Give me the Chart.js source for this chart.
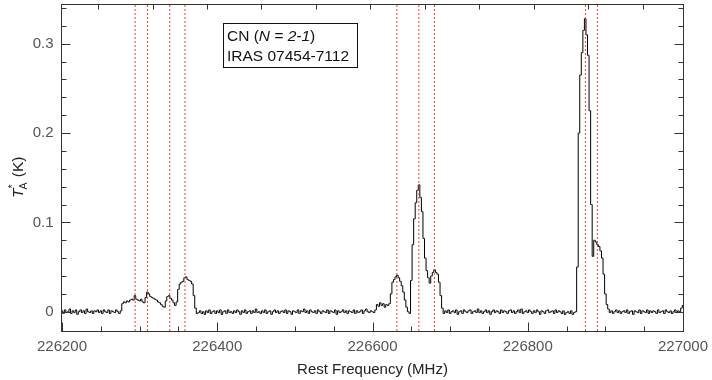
<!DOCTYPE html>
<html>
<head>
<meta charset="utf-8">
<script src="https://cdn.jsdelivr.net/npm/chart.js@4.4.0/dist/chart.umd.min.js"></script>
<style>
  html, body { margin: 0; padding: 0; background: #fff; }
  #wrap { width: 712px; height: 380px; }
</style>
</head>
<body>
<div id="wrap"><canvas id="spectrumChart" width="712" height="380"></canvas></div>
<script>
// Spectrum channels: first channel (MHz) and channel width (MHz)
const freqStart = 226200;
const chanWidth = 2;

// Antenna temperature T_A* (K), one value per channel
const taValues = [
  // 226200
   0.001,-0.002, 0.002,-0.001, 0.000, 0.003,-0.002, 0.001,-0.001, 0.002,
  -0.003, 0.000, 0.002,-0.001, 0.001,-0.002, 0.003, 0.000,-0.001, 0.001,
  // 226240
  -0.002, 0.001, 0.000, 0.002,-0.001, 0.001,-0.002, 0.002, 0.000,-0.001,
   0.002,-0.002, 0.001, 0.000,-0.001, 0.002, 0.000,-0.002, 0.001, 0.009,
  // 226280
   0.011, 0.010, 0.012, 0.011, 0.013, 0.014, 0.013, 0.018, 0.014, 0.013,
   0.012, 0.014, 0.011, 0.010, 0.016, 0.022, 0.020, 0.017, 0.016, 0.015,
  // 226320
   0.014, 0.013, 0.011, 0.010, 0.008, 0.006, 0.005, 0.012, 0.017, 0.018,
   0.015, 0.013, 0.010, 0.007, 0.011, 0.025, 0.031, 0.033, 0.034, 0.038,
  // 226360
   0.039, 0.036, 0.035, 0.034, 0.031, 0.018, 0.004,-0.002,-0.001, 0.001,
  -0.002, 0.000,-0.003, 0.001,-0.001, 0.002,-0.002, 0.000, 0.001,-0.002,
  // 226400
   0.001,-0.001, 0.002,-0.003, 0.000, 0.001,-0.002, 0.002,-0.001, 0.000,
  -0.002, 0.001,-0.001, 0.002, 0.000,-0.003, 0.001,-0.001, 0.002,-0.002,
  // 226440
   0.000, 0.001,-0.002, 0.001,-0.001, 0.003,-0.001, 0.000,-0.002, 0.001,
  -0.001, 0.002,-0.002, 0.000, 0.001,-0.003, 0.000, 0.002,-0.001, 0.001,
  // 226480
  -0.002, 0.000, 0.001,-0.001, 0.002,-0.002, 0.001, 0.000,-0.003, 0.001,
   0.000,-0.001, 0.002,-0.002, 0.001, 0.000, 0.003,-0.001, 0.001,-0.002,
  // 226520
   0.002, 0.000,-0.001, 0.001,-0.002, 0.002, 0.000,-0.002, 0.001, 0.000,
  -0.001, 0.002,-0.002, 0.001, 0.000,-0.001, 0.002,-0.003, 0.001,-0.001,
  // 226560
   0.000, 0.002,-0.001, 0.001,-0.002, 0.001, 0.000,-0.001, 0.002,-0.002,
   0.001,-0.001, 0.000, 0.002,-0.002, 0.001, 0.003, 0.000,-0.001, 0.001,
  // 226600
   0.000,-0.001, 0.002, 0.008, 0.006, 0.010, 0.007, 0.009, 0.005, 0.008,
   0.007, 0.009, 0.020, 0.033, 0.036, 0.039, 0.041, 0.038, 0.034, 0.029,
  // 226640
   0.022, 0.013, 0.005, 0.000,-0.002, 0.035, 0.075, 0.104, 0.122, 0.136,
   0.142, 0.128, 0.112, 0.082, 0.060, 0.046, 0.038, 0.032, 0.040, 0.044,
  // 226680
   0.047, 0.044, 0.042, 0.033, 0.018, 0.004,-0.002, 0.001,-0.001, 0.002,
  -0.002, 0.000, 0.001,-0.001, 0.002,-0.003, 0.000, 0.001,-0.002, 0.002,
  // 226720
   0.000,-0.001, 0.001, 0.002,-0.002, 0.000, 0.001,-0.001, 0.003,-0.001,
   0.001,-0.002, 0.000, 0.002,-0.001, 0.001,-0.003, 0.000, 0.002,-0.001,
  // 226760
   0.001, 0.000,-0.002, 0.002,-0.001, 0.001, 0.000,-0.002, 0.001, 0.002,
  -0.001, 0.001,-0.002, 0.000, 0.002,-0.001, 0.003,-0.002, 0.000, 0.001,
  // 226800
  -0.001, 0.002, 0.000,-0.002, 0.001,-0.001, 0.002, 0.000,-0.003, 0.001,
   0.000,-0.002, 0.001, 0.002,-0.001, 0.000, 0.001,-0.002, 0.002,-0.001,
  // 226840
   0.001, 0.000,-0.002, 0.001,-0.003,-0.001, 0.000,-0.002, 0.001,-0.003,
  -0.001, 0.000, 0.050, 0.200, 0.265, 0.290, 0.315, 0.328, 0.310, 0.287,
  // 226880
   0.225, 0.120, 0.062, 0.080, 0.078, 0.075, 0.073, 0.068, 0.060, 0.042,
   0.020, 0.008, 0.003,-0.001, 0.001,-0.002, 0.000, 0.002,-0.001, 0.001,
  // 226920
  -0.002, 0.000, 0.001,-0.001, 0.002,-0.002, 0.000, 0.001,-0.003, 0.001,
   0.000,-0.001, 0.002,-0.002, 0.001, 0.000,-0.001, 0.002,-0.002, 0.001,
  // 226960
  -0.001, 0.001, 0.000,-0.002, 0.002,-0.001, 0.000, 0.001,-0.002, 0.002,
   0.000,-0.001, 0.001,-0.002, 0.000, 0.002,-0.001, 0.001, 0.000, 0.004,
  // 227000
   0.007
];

// Hyperfine component rest frequencies (MHz), red dotted markers
const lineFreqs = [226294.2, 226310.2, 226338.8, 226358.4, 226631.4, 226659.7, 226679.8, 226874.3, 226889.7];

// Axis ranges and ticks
const xRange = [226200, 227000];
const yRange = [-0.0216, 0.3434];
const xTickLabels = [226200, 226400, 226600, 226800, 227000];
const yTickLabels = [0, 0.1, 0.2, 0.3];
const topTickFreqs = [226246.9, 226317.0, 226386.3, 226456.5, 226526.8, 226597.1, 226667.3, 226737.6, 226807.9, 226878.1, 226948.4];

const FONT = '"Liberation Sans", Arial, Helvetica, sans-serif';

document.addEventListener('DOMContentLoaded', function () {
    const canvas = document.getElementById('spectrumChart');
    const spectrum = taValues.map((v, i) => ({ x: freqStart + i * chanWidth, y: v }));

    // one dotted vertical dataset per line frequency
    const markerSets = lineFreqs.map(f => ({
        data: [{ x: f, y: yRange[0] }, { x: f, y: yRange[1] }],
        borderColor: 'rgba(238, 40, 40, 0.9)',
        borderWidth: 1,
        borderDash: [2, 2],
        pointRadius: 0,
        order: 0
    }));

    // frame, inward ticks, tick labels, axis titles and the label box
    const framePlugin = {
        id: 'frame',
        afterDraw(chart) {
            const { ctx, chartArea: a, scales: { x, y } } = chart;
            const L = Math.round(a.left) - 0.5, R = Math.round(a.right) + 0.5;
            const T = Math.round(a.top) - 0.5, B = Math.round(a.bottom) + 0.5;
            ctx.save();
            ctx.strokeStyle = '#333';
            ctx.lineWidth = 1;
            ctx.strokeRect(L, T, R - L, B - T);

            ctx.beginPath();
            // bottom: major every 200, minor every 50
            for (let f = xRange[0]; f <= xRange[1]; f += 50) {
                const px = Math.round(x.getPixelForValue(f)) + 0.5;
                const len = xTickLabels.includes(f) ? 9 : 5;
                ctx.moveTo(px, B); ctx.lineTo(px, B - len);
            }
            // top axis ticks
            topTickFreqs.forEach(f => {
                const px = Math.round(x.getPixelForValue(f)) + 0.5;
                ctx.moveTo(px, T); ctx.lineTo(px, T + 5);
            });
            // left and right: major every 0.1, minor every 0.02
            for (let k = 0; k <= 17; k++) {
                const v = k * 0.02;
                const py = Math.round(y.getPixelForValue(v)) + 0.5;
                const len = (k % 5 === 0) ? 9 : 5;
                ctx.moveTo(L, py); ctx.lineTo(L + len, py);
                ctx.moveTo(R, py); ctx.lineTo(R - len, py);
            }
            ctx.stroke();

            // tick labels
            ctx.fillStyle = '#555';
            ctx.font = '15px ' + FONT;
            ctx.textAlign = 'center';
            ctx.textBaseline = 'middle';
            xTickLabels.forEach(f => ctx.fillText(String(f), x.getPixelForValue(f), 347));
            ctx.textAlign = 'right';
            yTickLabels.forEach(v => ctx.fillText(String(v), 53.5, y.getPixelForValue(v)));

            // x title
            ctx.fillStyle = '#222';
            ctx.textAlign = 'center';
            ctx.textBaseline = 'alphabetic';
            ctx.fillText('Rest Frequency (MHz)', (a.left + a.right) / 2, 374);

            // y title: T_A^* (K)
            ctx.save();
            ctx.translate(23, 198);
            ctx.rotate(-Math.PI / 2);
            ctx.textAlign = 'left';
            ctx.font = 'italic 15.5px ' + FONT;
            ctx.fillText('T', 0, 0);
            let w = ctx.measureText('T').width;
            ctx.font = '10.5px ' + FONT;
            ctx.fillText('A', w - 1, 3.5);
            ctx.fillText('*', w, -7);
            w += ctx.measureText('A').width;
            ctx.font = '15.5px ' + FONT;
            ctx.fillText(' (K)', w, 0);
            ctx.restore();

            // label box
            const bx = a.left + 161, by = a.top + 18;
            ctx.strokeStyle = '#111';
            ctx.strokeRect(Math.round(bx) + 0.5, Math.round(by) + 0.5, 134, 44);
            ctx.fillStyle = '#111';
            ctx.textAlign = 'left';
            let tx = bx + 4;
            const base1 = by + 18, base2 = by + 38;
            ctx.font = '15.5px ' + FONT;
            ctx.fillText('CN (', tx, base1);
            tx += ctx.measureText('CN (').width;
            ctx.font = 'italic 15.5px ' + FONT;
            ctx.fillText('N = 2-1', tx, base1);
            tx += ctx.measureText('N = 2-1').width;
            ctx.font = '15.5px ' + FONT;
            ctx.fillText(')', tx, base1);
            ctx.fillText('IRAS 07454-7112', bx + 4, base2);
            ctx.restore();
        }
    };

    new Chart(canvas.getContext('2d'), {
        type: 'line',
        data: {
            datasets: [{
                data: spectrum,
                borderColor: '#000',
                borderWidth: 1,
                stepped: 'middle',
                pointRadius: 0,
                order: 1
            }].concat(markerSets)
        },
        options: {
            responsive: false,
            animation: false,
            devicePixelRatio: 1,
            layout: { padding: { left: 62, right: 29, top: 5, bottom: 49 } },
            plugins: {
                legend: { display: false },
                tooltip: { enabled: false }
            },
            scales: {
                x: { type: 'linear', display: false, min: xRange[0], max: xRange[1] },
                y: { type: 'linear', display: false, min: yRange[0], max: yRange[1] }
            }
        },
        plugins: [framePlugin]
    });
});
</script>
</body>
</html>
